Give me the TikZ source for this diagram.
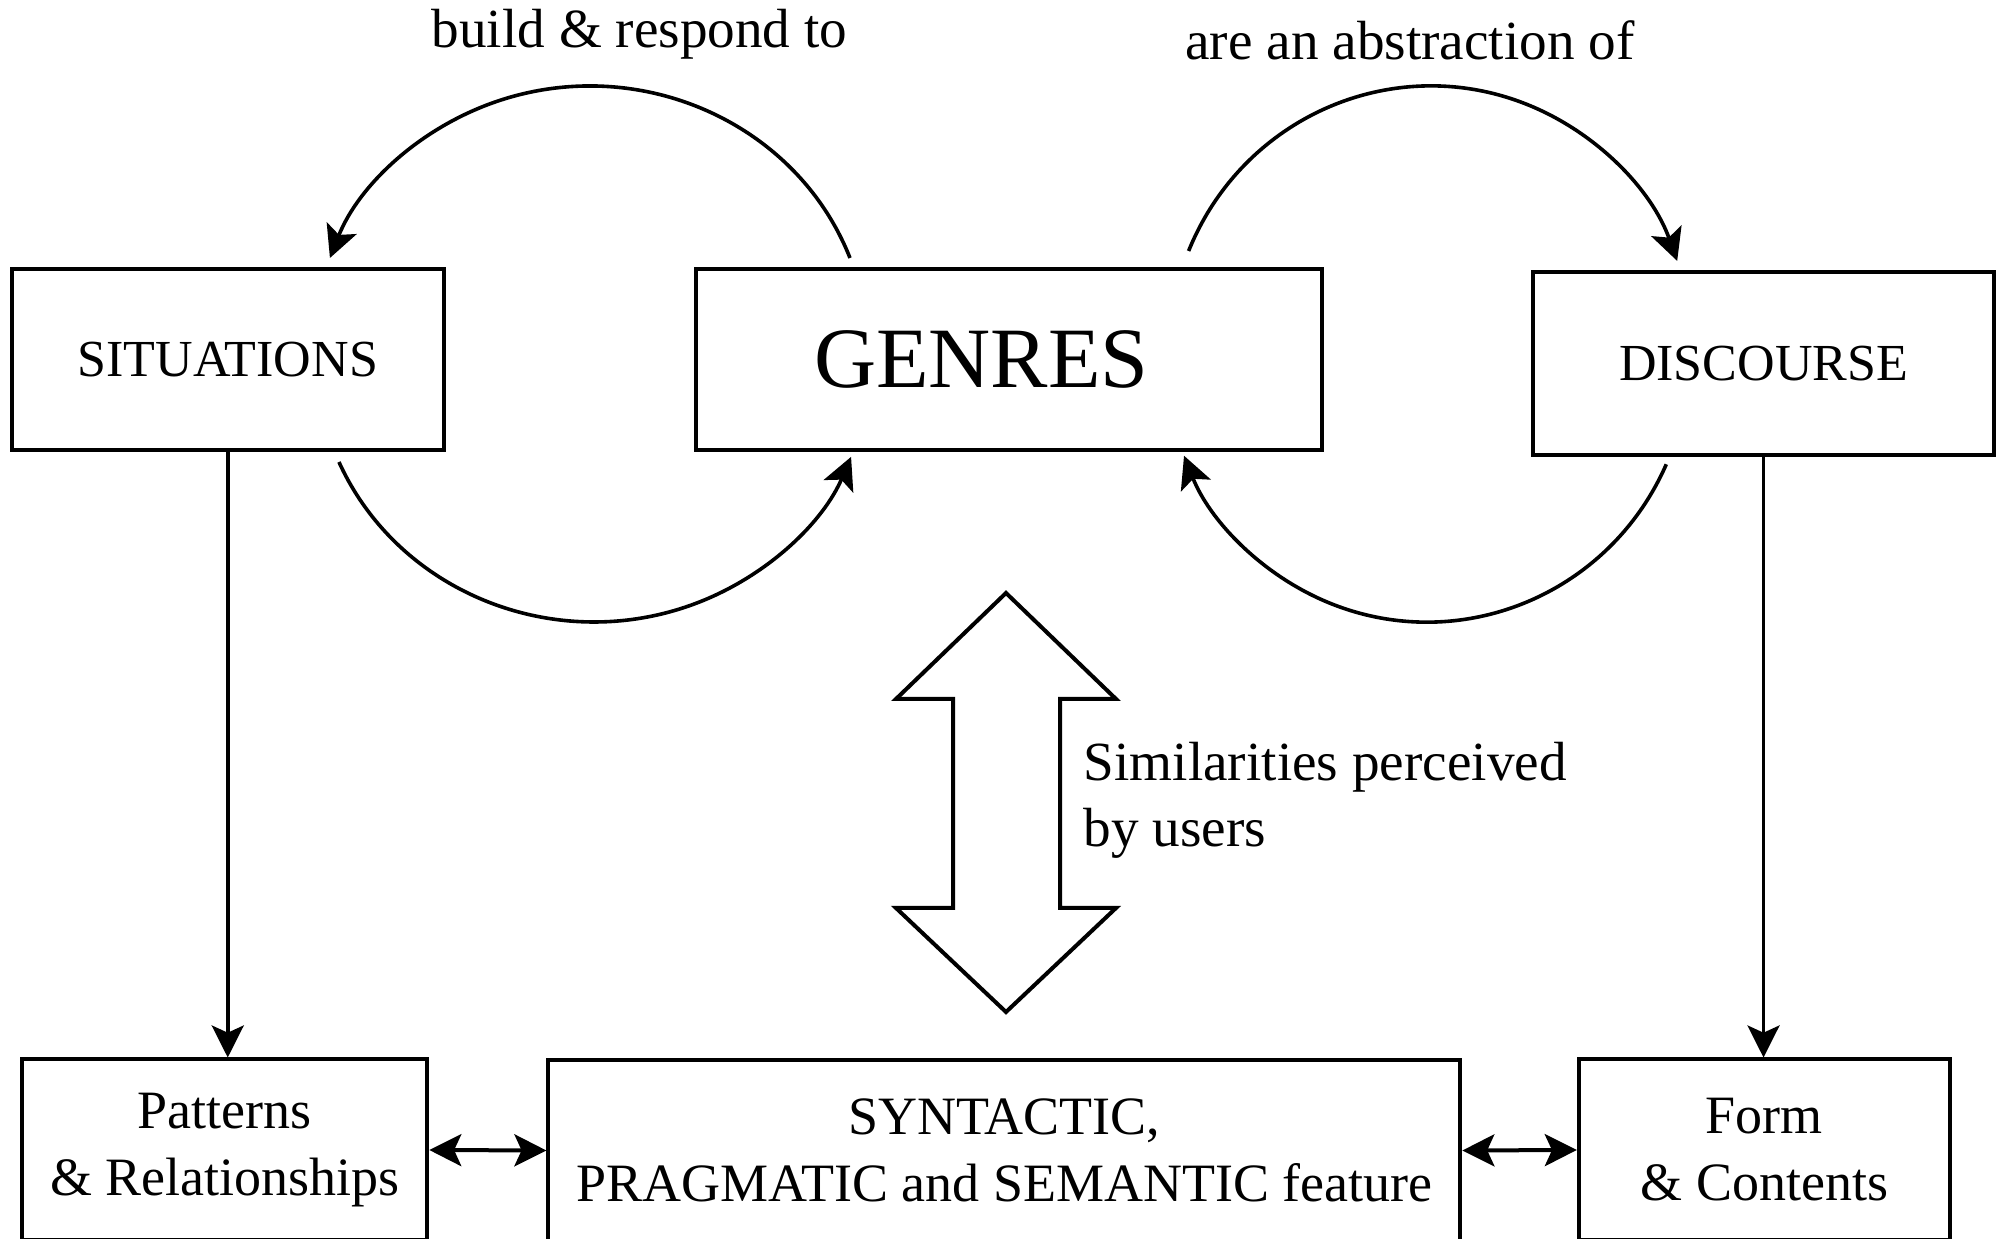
\documentclass[tikz,border=0pt]{standalone}
\usepackage{fontspec}
\setmainfont{Liberation Serif}
\usetikzlibrary{arrows.meta,calc}
\begin{document}
\begin{tikzpicture}[x=0.25pt,y=-0.25pt,
  box/.style={draw, line width=1pt, inner sep=0pt, align=center,
    minimum height=45.25pt, font=\fontsize{13.5}{16.75}\selectfont},
  capbox/.style={box, font=\fontsize{13}{16.75}\selectfont},
  head/.style={},
  arr/.style={line width=0.9pt, -{Stealth[length=8pt,width=8pt,inset=1.8pt]}},
  darr/.style={line width=1pt, {Stealth[length=8pt,width=8pt,inset=1.8pt]}-{Stealth[length=8pt,width=8pt,inset=1.8pt]}},
  lbl/.style={font=\fontsize{13.8}{16.75}\selectfont, inner sep=0pt}]
\useasboundingbox (0,0) rectangle (2005,1239);
\fill[white] (0,0) rectangle (2005,1239);

\node[capbox, minimum width=108.1pt] (sit) at (227.75,359.5) {SITUATIONS};
\node[box, minimum width=156.5pt, font=\fontsize{21.5}{25}\selectfont] (gen) at (1009.4,359.5) {GENRES\hspace*{14pt}};
\node[capbox, minimum width=115.1pt, minimum height=45.7pt] (dis) at (1763.5,363.4) {DISCOURSE};
\node[box, minimum width=101.25pt] (pat) at (224.8,1150) {Patterns\\\& Relationships};
\node[box, minimum width=228pt] (syn) at (1004.4,1150.5) {SYNTACTIC,\\PRAGMATIC and SEMANTIC feature};
\node[box, minimum width=92.8pt] (form) at (1764.4,1150) {Form\\\& Contents};

\node[lbl, anchor=base] (t1) at (639.5,48) {build \& respond to};
\node[lbl, anchor=base] (t2) at (1410,59.3) {are an abstraction of};
\node[lbl, anchor=base west] (s1) at (1083,781) {Similarities perceived};
\node[lbl, anchor=base west] (s2) at (1083,847) {by users};

% big double arrow
\draw[line width=1pt] (1006,593) -- (1116,699) -- (1060,699) -- (1060,908) -- (1116,908)
  -- (1006,1012) -- (896,908) -- (953,908) -- (953,699) -- (896,699) -- cycle;

% vertical connectors
\draw[arr] (sit.south) -- (sit.south |- pat.north);
\draw[arr] (dis.south) -- (dis.south |- form.north);
% horizontal double arrows
\draw[darr] (pat.east) -- (syn.west);
\draw[darr] (syn.east) -- (form.west);

% arcs
\draw[arr] ($(gen.north west)+(155.6,-9)$) arc[start angle=20.7, end angle=159.3, x radius=69.5pt, y radius=66.5pt];
\draw[arr] ($(sit.south east)+(-107,10)$) arc[start angle=203.5, end angle=337.7, x radius=69.5pt, y radius=66.5pt];
\draw[arr] ($(gen.north east)+(-135.8,-16)$) arc[start angle=157.7, end angle=20, x radius=65.5pt, y radius=66.5pt];
\draw[arr] ($(dis.south west)+(135,7.5)$) arc[start angle=336, end angle=202, x radius=65.5pt, y radius=66.5pt];
\end{tikzpicture}
\end{document}
